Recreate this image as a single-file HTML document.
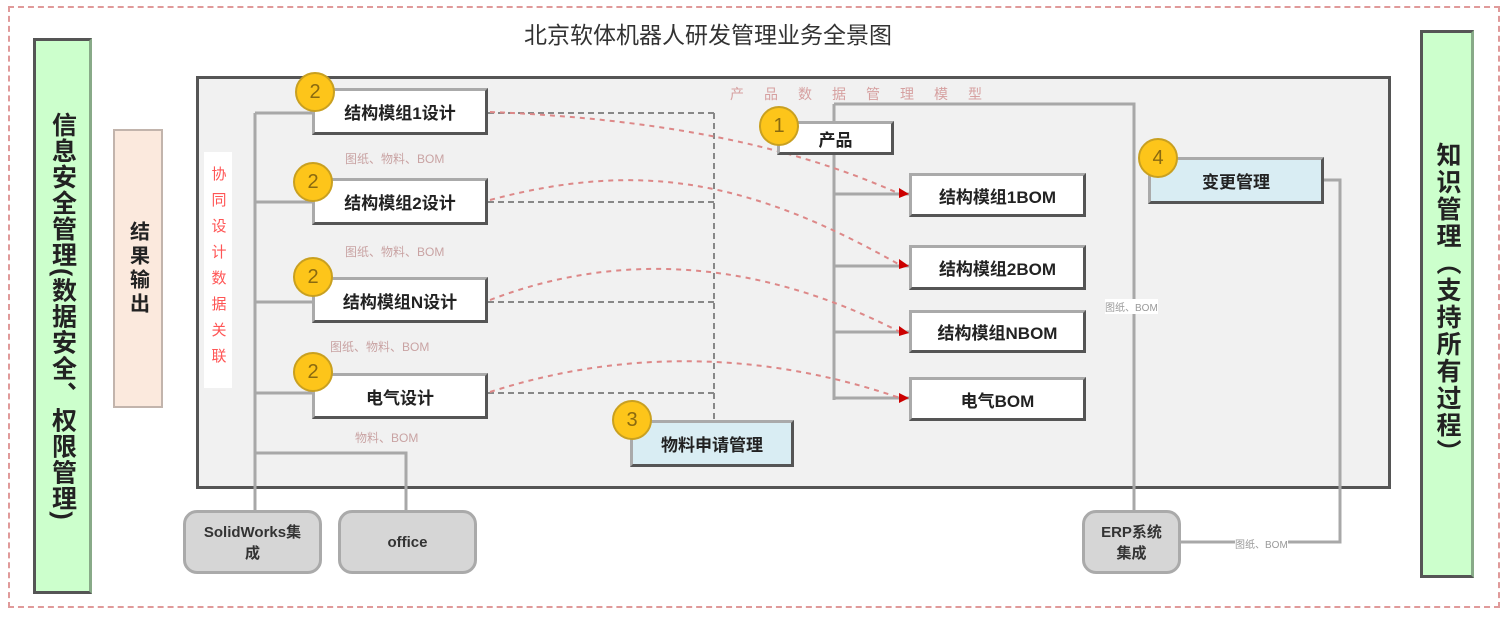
<!DOCTYPE html>
<html><head><meta charset="utf-8"><style>
body{margin:0;width:1508px;height:620px;background:#fff;position:relative;overflow:hidden;font-family:"Liberation Sans","Noto Sans CJK SC",sans-serif;}
.a{position:absolute;box-sizing:border-box;}
.box{position:absolute;box-sizing:border-box;background:#fff;border:3px solid #555;border-top-color:#aaa;border-left-color:#aaa;display:flex;align-items:center;justify-content:center;font-size:17px;color:#222;font-weight:bold;}
.c{position:absolute;width:40px;height:40px;border-radius:50%;background:#fdc51a;border:2px solid #c9a020;box-sizing:border-box;color:#8a6a10;font-size:20px;display:flex;align-items:center;justify-content:center;}
.lbl{position:absolute;font-size:12px;color:#c9a3a3;}
.g{position:absolute;box-sizing:border-box;background:#d6d6d6;border:3px solid #aaa;border-radius:14px;display:flex;align-items:center;justify-content:center;text-align:center;font-size:15px;font-weight:bold;color:#333;}
.v{writing-mode:vertical-rl;}
</style></head><body>
<div class="a" style="left:8px;top:6px;width:1492px;height:602px;border:2px dashed #e09a9a;"></div>
<div class="a" style="left:0;top:16px;width:1416px;text-align:center;font-size:23px;color:#333;">北京软体机器人研发管理业务全景图</div>
<div class="a" style="left:33px;top:38px;width:59px;height:556px;background:#ccffcc;border:3px solid #555;border-right-color:#8a8;display:flex;justify-content:center;align-items:center;"><div class="v" style="font-size:25px;font-weight:bold;color:#222;letter-spacing:1px;">信息安全管理(数据安全、权限管理)</div></div>
<div class="a" style="left:1420px;top:30px;width:54px;height:548px;background:#ccffcc;border:3px solid #555;border-right-color:#8a8;display:flex;justify-content:center;align-items:center;"><div class="v" style="font-size:25px;font-weight:bold;color:#222;letter-spacing:2px;">知识管理（支持所有过程）</div></div>
<div class="a" style="left:113px;top:129px;width:50px;height:279px;background:#fbe9dd;border:2px solid #c2b4ac;display:flex;justify-content:center;align-items:center;"><div class="v" style="font-size:20px;font-weight:bold;color:#222;letter-spacing:4px;">结果输出</div></div>
<div class="a" style="left:196px;top:76px;width:1195px;height:413px;background:#f1f1f1;border:3px solid #555;"></div>
<div class="a" style="left:204px;top:152px;width:28px;height:236px;background:#fff;display:flex;justify-content:center;align-items:center;"><div class="v" style="font-size:15px;color:#f55;letter-spacing:11px;">协同设计数据关联</div></div>
<div class="a" style="left:730px;top:84px;font-size:14px;color:#d6a0a0;letter-spacing:20px;">产品数据管理模型</div>
<svg class="a" style="left:0;top:0" width="1508" height="620">
<g fill="none" stroke="#a8a8a8" stroke-width="3">
<path d="M255 113V515M255 113H312M255 202H312M255 302H312M255 393H312M255 453H406V510"/>
<path d="M834 104V400M834 104H1134V515M834 194H909M834 266H909M834 332H909M834 398H909"/>
<path d="M1323 180H1340V542H1180"/>
</g>
<g fill="none" stroke="#888" stroke-width="2" stroke-dasharray="6,4">
<path d="M488 113H714M488 202H714M488 302H714M488 393H714M714 113V420"/>
</g>
<g fill="none" stroke="#d88" stroke-width="2" stroke-dasharray="5,5">
<path d="M490 112C640 118 780 140 900 194"/>
<path d="M490 200C640 160 750 180 900 265"/>
<path d="M490 300C620 250 760 260 900 332"/>
<path d="M490 392C620 350 760 350 900 398"/>
</g>
<g fill="#c00">
<path d="M909 194l-10-6v10z"/><path d="M909 266l-10-7v10z"/><path d="M909 333l-10-7v10z"/><path d="M909 398l-10-5v10z"/>
</g>
</svg>
<div class="box" style="left:312px;top:88px;width:176px;height:47px;">结构模组1设计</div>
<div class="box" style="left:312px;top:178px;width:176px;height:47px;">结构模组2设计</div>
<div class="box" style="left:312px;top:277px;width:176px;height:46px;">结构模组N设计</div>
<div class="box" style="left:312px;top:373px;width:176px;height:46px;">电气设计</div>
<div class="lbl" style="left:345px;top:150px;">图纸、物料、BOM</div>
<div class="lbl" style="left:345px;top:243px;">图纸、物料、BOM</div>
<div class="lbl" style="left:330px;top:338px;">图纸、物料、BOM</div>
<div class="lbl" style="left:355px;top:429px;">物料、BOM</div>
<div class="c" style="left:295px;top:72px;">2</div>
<div class="c" style="left:293px;top:162px;">2</div>
<div class="c" style="left:293px;top:257px;">2</div>
<div class="c" style="left:293px;top:352px;">2</div>
<div class="box" style="left:630px;top:420px;width:164px;height:47px;background:#d9edf3;">物料申请管理</div>
<div class="c" style="left:612px;top:400px;">3</div>
<div class="box" style="left:777px;top:121px;width:117px;height:34px;">产品</div>
<div class="c" style="left:759px;top:106px;">1</div>
<div class="box" style="left:909px;top:173px;width:177px;height:44px;">结构模组1BOM</div>
<div class="box" style="left:909px;top:245px;width:177px;height:45px;">结构模组2BOM</div>
<div class="box" style="left:909px;top:310px;width:177px;height:43px;">结构模组NBOM</div>
<div class="box" style="left:909px;top:377px;width:177px;height:44px;">电气BOM</div>
<div class="box" style="left:1148px;top:157px;width:176px;height:47px;background:#d9edf3;">变更管理</div>
<div class="c" style="left:1138px;top:138px;">4</div>
<div class="lbl" style="left:1105px;top:299px;font-size:10px;color:#999;background:#fff;">图纸、BOM</div>
<div class="lbl" style="left:1235px;top:536px;font-size:10px;color:#999;background:#fff;">图纸、BOM</div>
<div class="g" style="left:183px;top:510px;width:139px;height:64px;">SolidWorks集<br>成</div>
<div class="g" style="left:338px;top:510px;width:139px;height:64px;">office</div>
<div class="g" style="left:1082px;top:510px;width:99px;height:64px;">ERP系统<br>集成</div>
</body></html>
